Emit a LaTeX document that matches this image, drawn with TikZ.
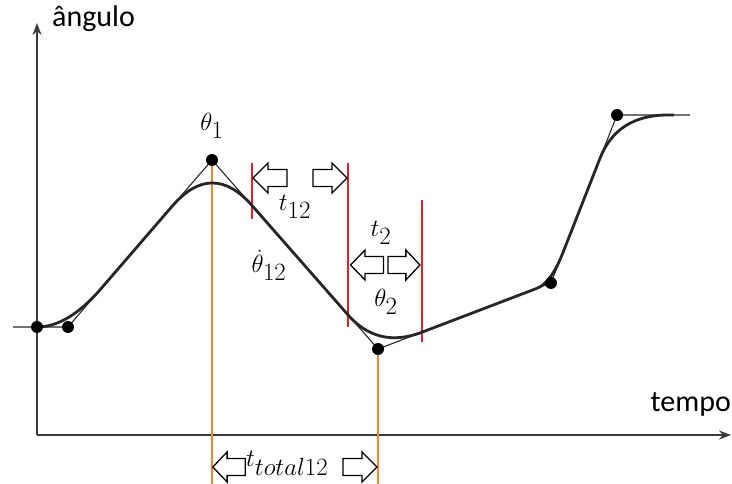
\documentclass[tikz,border=0pt]{standalone}
\usepackage{fontspec}
\setmainfont{Carlito}
\usetikzlibrary{calc,arrows.meta}
\DeclareMathSizes{29}{29}{23}{17}
\definecolor{axisgray}{HTML}{3A3A3A}
\definecolor{curvecol}{HTML}{262626}
\definecolor{orangeln}{HTML}{F7862A}
\definecolor{redln}{HTML}{EE1C25}
\tikzset{
  axis/.style={draw=axisgray, line width=1.8pt, -{Stealth[length=12pt,width=9pt]}},
  polyl/.style={draw=curvecol, line width=1.1pt},
  curvel/.style={draw=curvecol, line width=2.8pt, line join=round},
  dot/.style={circle, fill=black, inner sep=0pt, minimum size=12pt},
  oline/.style={draw=orangeln, line width=1.5pt},
  rline/.style={draw=redln, line width=1.5pt},
  barrowline/.style={draw=black, line width=1.3pt, fill=white, line join=miter},
  blockarrow/.pic={
    \draw[barrowline] (-17,0) -- (-2,-15) -- (-2,-8.5) -- (17,-8.5) -- (17,8.5)
      -- (-2,8.5) -- (-2,15) -- cycle;
  },
  lbl/.style={inner sep=0pt, font=\fontsize{30}{34}\selectfont},
  mlbl/.style={inner sep=0pt, font=\fontsize{29}{33}\selectfont}
}
\begin{document}
\begin{tikzpicture}[x=1pt,y=-1pt]
\useasboundingbox (0,0) rectangle (732,484);
% key points
\coordinate (S) at (13,327);
\coordinate (P1) at (68,327);
\coordinate (P2) at (212,160);
\coordinate (P3) at (378,349);
\coordinate (P4) at (551,283);
\coordinate (P5) at (617,115);
\coordinate (E) at (690,115);
\coordinate (A1) at (37,327);  \coordinate (B1) at (101,288.7);
\coordinate (A2) at (172,206.4); \coordinate (B2) at (252,205.5);
\coordinate (A3) at (348,314.9); \coordinate (B3) at (422,332.2);
\coordinate (A4) at (537,288.3); \coordinate (B4) at (563,252.5);
\coordinate (A5) at (600,158.3); \coordinate (B5) at (668,115);
\coordinate (CE) at (674,115);
% axes
\coordinate (O) at (37,435);
\coordinate (Ytop) at (37,23);
\coordinate (Xend) at (731,435);
\draw[axis] (O) -- (Ytop);
\draw[axis] (O) -- (Xend);
% orange lines
\coordinate (O1b) at (212,484);
\coordinate (O2b) at (378,484);
\draw[oline] (P2) -- (O1b);
\draw[oline] (P3) -- (O2b);
% red lines
\coordinate (R1t) at (252,163); \coordinate (R1b) at (252,219);
\coordinate (R2t) at (348,163); \coordinate (R2b) at (348,327);
\coordinate (R3t) at (422,200); \coordinate (R3b) at (422,342);
\draw[rline] (R1t) -- (R1b);
\draw[rline] (R2t) -- (R2b);
\draw[rline] (R3t) -- (R3b);
% polyline
\draw[polyl] (S) -- (P1) -- (P2) -- (P3) -- (P4) -- (P5) -- (E);
% smooth curve
\draw[curvel] (A1) .. controls ($(A1)!2/3!(P1)$) and ($(B1)!2/3!(P1)$) .. (B1)
  -- (A2) .. controls ($(A2)!2/3!(P2)$) and ($(B2)!2/3!(P2)$) .. (B2)
  -- (A3) .. controls ($(A3)!2/3!(P3)$) and ($(B3)!2/3!(P3)$) .. (B3)
  -- (A4) .. controls ($(A4)!2/3!(P4)$) and ($(B4)!2/3!(P4)$) .. (B4)
  -- (A5) .. controls ($(A5)!2/3!(P5)$) and ($(B5)!2/3!(P5)$) .. (B5)
  -- (CE);
% dots
\node[dot] (d0) at (A1) {};
\node[dot] (d1) at (P1) {};
\node[dot] (d2) at (P2) {};
\node[dot] (d3) at (P3) {};
\node[dot] (d4) at (P4) {};
\node[dot] (d5) at (P5) {};
% block arrows
\pic (aL1) at (270,178) {blockarrow};
\pic[xscale=-1] (aR1) at (330,178) {blockarrow};
\pic[xscale=0.97] (aL2) at (367,265) {blockarrow};
\pic[xscale=-0.94] (aR2) at (404,265) {blockarrow};
\pic[xscale=0.95] (aL3) at (229,467) {blockarrow};
\pic[xscale=-1] (aR3) at (360,467) {blockarrow};
% labels
\node[lbl, anchor=west] (yl) at (52,19) {ângulo};
\node[lbl, anchor=east] (xl) at (731,404) {tempo};
\node[mlbl] (th1) at (212,126) {$\theta_1$};
\node[mlbl] (t12) at (295,207) {$t_{12}$};
\node[mlbl] (dth) at (269,265) {$\dot\theta_{12}$};
\node[mlbl] (t2) at (381,233) {$t_2$};
\node[mlbl] (th2) at (386,302) {$\theta_2$};
\node[mlbl, anchor=west] (tt) at (246,463) {$t_{total12}$};
\end{tikzpicture}
\end{document}
